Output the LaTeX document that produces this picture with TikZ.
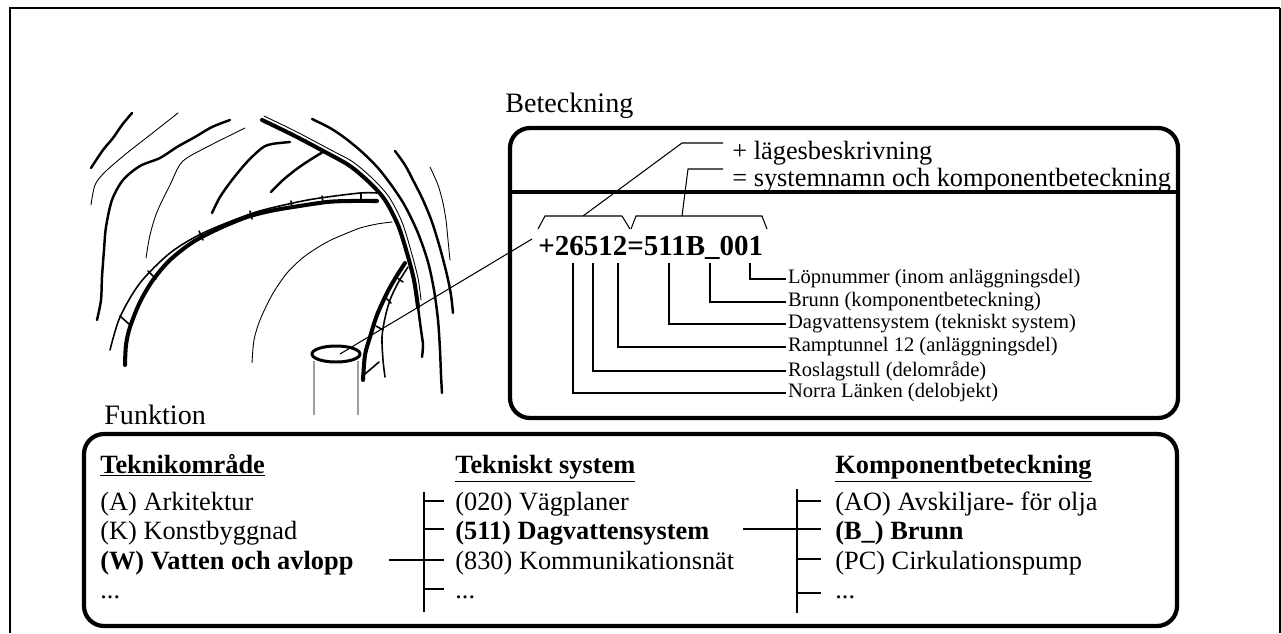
\documentclass[tikz,border=0pt]{standalone}
\usepackage{fontspec}
\setmainfont{Liberation Serif}
\usetikzlibrary{positioning}

\tikzset{
  frameline/.style={line width=1.7pt},
  roundbox/.style={line width=2.4pt, rounded corners=0.4cm},
  leader/.style={line width=0.6pt},
  heavy/.style={line width=2.3pt, line cap=round, line join=round},
  rough/.style={line width=1.4pt, line cap=round, line join=round},
  fine/.style={line width=0.5pt, line cap=round, line join=round},
  joint/.style={line width=0.9pt, line cap=round},
  title/.style={font=\fontsize{16}{18}\selectfont, inner sep=0pt, anchor=base west},
  head/.style={font=\fontsize{15}{17}\selectfont, inner sep=0pt, anchor=base west},
  part/.style={font=\fontsize{11.7}{13}\selectfont, inner sep=1pt, anchor=west},
  item/.style={font=\fontsize{15}{17}\selectfont, inner sep=0pt, anchor=base west},
}

\begin{document}
\begin{tikzpicture}[x=0.02cm,y=-0.02cm]
\useasboundingbox (0,0) rectangle (1281,633);

% outer frame
\draw[frameline] (10,633) -- (10,8) -- (1280,8);
\draw[leader] (1280,8) -- (1280,633);

% tunnel sketch
\draw[rough] plot[smooth] coordinates {(91,168) (103,150) (113,138) (122,125) (132,113)};
\draw[fine] plot[smooth] coordinates {(91,205) (95,185) (105,172) (127,153) (150,135) (178,113)};
\draw[rough] plot[smooth] coordinates {(97,320) (101,300) (102,277) (104,250) (106,227) (112,200) (123,180) (140,166) (160,158) (177,147) (195,137) (212,127) (230,120)};
\draw[fine] plot[smooth] coordinates {(146,258) (150,235) (157,212) (170,185) (182,162) (205,148) (245,128)};
\draw[rough] plot[smooth] coordinates {(212,213) (220,197) (232,180) (247,162) (262,148) (272,144) (290,142)};
\draw[rough] plot[smooth] coordinates {(271,192) (283,180) (298,168) (313,158) (323,152)};
\draw[heavy] plot[smooth] coordinates {(262,120) (293,135) (327,153) (350,166) (370,183) (385,200) (398,225) (407,253) (414,280) (418,307)};
\draw[fine] plot[smooth] coordinates {(264,116) (295,131) (329,149) (353,162) (373,179) (389,197) (402,222) (411,251) (418,278) (421,300)};
\draw[rough] plot[smooth] coordinates {(418,307) (421,330) (423,345) (422,357)};
\draw[rough] plot[smooth] coordinates {(312,119) (330,128) (345,138) (362,152) (378,168) (392,186) (405,206) (418,233) (428,262) (434,290) (438,320) (440,350) (441,375) (442,393)};
\draw[rough] plot[smooth] coordinates {(395,151) (405,165) (414,182) (423,200) (432,222) (440,248) (447,275) (451,295) (453,313)};
\draw[fine] plot[smooth] coordinates {(430,167) (438,185) (443,203) (446,220) (448,240) (450,260)};

% large tunnel lining
\draw[heavy] plot[smooth] coordinates {(125,365) (126,345) (130,327) (140,302) (153,280) (170,260) (193,242) (220,228) (247,217) (270,211) (293,207) (327,202) (350,201) (377,201)};
\draw[rough, line width=0.9pt] plot[smooth] coordinates {(110,350) (120,317) (140,283) (170,253) (203,233) (253,213) (293,203) (320,198) (360,193) (377,193)};
\draw[joint] (120,316) -- (129,324);
\draw[joint] (148,271) -- (156,279);
\draw[joint] (199,231) -- (203,240);
\draw[joint] (250,211) -- (252,219);
\draw[joint] (291,201) -- (292,208);
\draw[joint] (322,196) -- (323,203);
\draw[joint] (361,193) -- (361,201);
\draw[fine] plot[smooth] coordinates {(252,363) (254,340) (260,320) (272,295) (287,273) (305,256) (327,242) (345,234) (360,228) (377,224) (392,222)};

% small tunnel
\draw[heavy] plot[smooth] coordinates {(363,380) (365,355) (370,337) (377,315) (387,293) (396,277) (405,263)};
\draw[rough, line width=0.9pt] plot[smooth] coordinates {(385,377) (383,360) (382,337) (385,318) (390,300) (398,283) (408,267)};
\draw[joint] (396,277) -- (403,282);
\draw[joint] (386,298) -- (391,303);
\draw[joint] (376,326) -- (383,330);
\draw[joint] (365,374) -- (379,362);

% pipe
\draw[gray!75, line width=0.6pt] (314,361) -- (314,415);
\draw[gray!75, line width=0.6pt] (358,361) -- (358,415);
\draw[line width=1.7pt, fill=white] (336,354) ellipse [x radius=24, y radius=8];
\coordinate (pipec) at (340,354);

% Beteckning
\node[title] (bet) at (505,112) {Beteckning};
\draw[roundbox] (510,128) rectangle (1178,418);
\draw[line width=2.6pt] (510,192) -- (1178,192);

\node[head] (lage) at (732,159) {+ lägesbeskrivning};
\node[head] (sysn) at (732,186) {= systemnamn och komponentbeteckning};
\node[font=\bfseries\fontsize{16.5}{18}\selectfont, inner xsep=0pt, inner ysep=2pt, anchor=base west] (code) at (538,255) {+26512=511B\_001};

\coordinate (lageend) at (723,143);
\coordinate (sysnend) at (723,169);
\coordinate (plusend) at (532,239);
\draw[leader] (538,229) -- (545,216) -- (622,216) -- (630,229);
\draw[leader] (631,229) -- (636,216) -- (762,216) -- (767,229);
\draw[leader] (583,216) -- (682,143) -- (lageend);
\draw[leader] (682,216) -- (688,169) -- (sysnend);
\draw[leader] (pipec) -- (plusend);

\node[part] (lop) at (786,279) {Löpnummer (inom anläggningsdel)};
\node[part] (brunn) at (786,302) {Brunn (komponentbeteckning)};
\node[part] (dag) at (786,324) {Dagvattensystem (tekniskt system)};
\node[part] (ramp) at (786,347) {Ramptunnel 12 (anläggningsdel)};
\node[part] (ros) at (786,371) {Roslagstull (delområde)};
\node[part] (norra) at (786,393) {Norra Länken (delobjekt)};
\foreach \x/\n in {750/lop,710/brunn,669/dag,618/ramp,593/ros,573/norra}
  \draw[leader] (\x,0 |- code.south) |- (\n.west);

% Funktion
\node[title] (fun) at (104,424) {Funktion};
\draw[roundbox] (84,434) rectangle (1177,626);

\node[item] (omr) at (100,473) {\underline{\textbf{Teknikområde}}};
\node[item] (a) at (100,510) {(A) Arkitektur};
\node[item] (k) at (100,539) {(K) Konstbyggnad};
\node[item] (w) at (100,569) {\textbf{(W) Vatten och avlopp}};
\node[item] (dots1) at (100,598) {...};

\node[item] (sys) at (455,473) {\underline{\textbf{Tekniskt system}}};
\node[item] (s020) at (455,510) {(020) Vägplaner};
\node[item] (s511) at (455,539) {\textbf{(511) Dagvattensystem}};
\node[item] (s830) at (455,569) {(830) Kommunikationsnät};
\node[item] (dots2) at (455,598) {...};

\node[item] (komp) at (835,473) {\underline{\textbf{Komponentbeteckning}}};
\node[item] (ao) at (835,510) {(AO) Avskiljare- för olja};
\node[item] (b) at (835,539) {\textbf{(B\_) Brunn}};
\node[item] (pc) at (835,569) {(PC) Cirkulationspump};
\node[item] (dots3) at (835,598) {...};

\draw[leader] (424,492) -- (424,612);
\draw[leader] (424,501) -- (444,501);
\draw[leader] (424,529) -- (444,529);
\draw[leader] (424,560) -- (444,560);
\draw[leader] (424,589) -- (444,589);
\draw[leader] (389,560) -- (444,560);

\draw[leader] (797,489) -- (797,613);
\draw[leader] (797,501) -- (821,501);
\draw[leader] (797,529) -- (821,529);
\draw[leader] (797,559) -- (821,559);
\draw[leader] (797,593) -- (821,593);
\draw[leader] (743,529) -- (797,529);

\end{tikzpicture}
\end{document}
